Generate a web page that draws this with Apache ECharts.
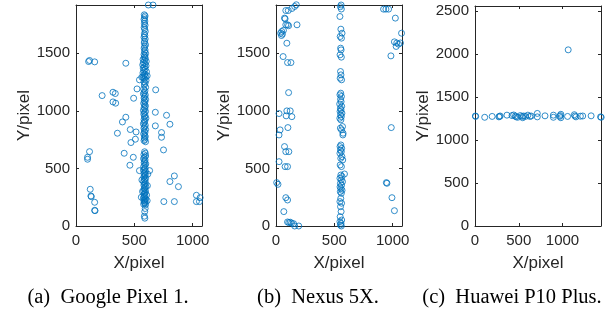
<!DOCTYPE html>
<html>
<head>
<meta charset="utf-8">
<script src="https://cdn.jsdelivr.net/npm/echarts@6/dist/echarts.min.js"></script>
<style>
    html, body { margin: 0; padding: 0; background: #fff; }
    #main { width: 616px; height: 313px; }
</style>
</head>
<body>
<div id="main"></div>
<script>
// screen sizes of the three phones (axis ranges)
var screenW = [1080, 1080, 1440];
var screenH = [1920, 1920, 2560];
var tickStep = 500;
var captions = ['(a)  Google Pixel 1.', '(b)  Nexus 5X.', '(c)  Huawei P10 Plus.'];

// (a) Google Pixel 1 - touches along the central column
var pixelLine = [
    [620,1920],[660,1920],
    [585,1835],[592,1825],[588,1810],[583,1795],[590,1780],[586,1760],[592,1745],[584,1725],
    [589,1710],[594,1690],[586,1670],[590,1655],[583,1640],[593,1625],[588,1605],[585,1590],
    [596,1575],[589,1560],[584,1545],[592,1530],[587,1515],[597,1500],[583,1490],[590,1480],
    [586,1468],[594,1458],[575,1448],[588,1440],[602,1430],[578,1420],[591,1410],[572,1400],
    [600,1392],[587,1382],[576,1372],[592,1362],[582,1350],[604,1340],[574,1330],[590,1320],
    [585,1310],[610,1305],[596,1298],[564,1293],[575,1290],[588,1280],[544,1270],[600,1265],
    [583,1255],[592,1240],[586,1225],[597,1205],[580,1190],[591,1175],[585,1160],[578,1148],
    [594,1138],[588,1125],[583,1112],[597,1100],[586,1090],[591,1078],[580,1066],[589,1055],
    [595,1042],[584,1030],[590,1018],[578,1005],[596,995],[586,985],[581,972],[592,960],
    [587,948],[599,936],[583,925],[590,912],[585,900],[578,888],[594,875],[588,862],
    [582,850],[597,838],[586,826],[591,812],[580,800],[589,788],[594,776],[585,765],
    [590,752],[583,742],[596,732],
    [588,645],[594,632],[582,620],[597,608],[586,596],[579,585],[592,574],[588,562],
    [584,550],[598,540],[590,528],[580,516],[593,505],[586,495],[578,485],[596,475],
    [588,465],[583,455],[615,450],[594,445],[589,435],[581,425],[597,415],[585,405],
    [565,400],[591,395],[579,385],[595,375],[587,365],[612,350],[582,355],[598,345],
    [590,335],[584,325],[593,315],[580,305],[570,300],[596,295],[588,285],[583,275],
    [605,268],[591,262],[585,252],[560,250],[578,244],[597,236],[589,228],[610,220],
    [582,220],[594,212],[586,204],[591,196],[580,190],[596,185],
    [593,152],[589,125],[586,85],[590,68]
];
// (a) Google Pixel 1 - scattered touches
var pixelScatter = [
    [108,1429],[116,1438],[160,1426],[427,1414],[224,1133],[317,1162],[337,1151],[317,1078],
    [340,1067],[494,1110],[523,1191],[683,1183],[680,988],[776,962],[805,884],[733,812],
    [733,771],[750,661],[427,945],[398,904],[355,806],[465,838],[515,817],[471,725],
    [509,754],[680,870],[413,632],[491,597],[462,528],[544,481],[631,481],[843,435],
    [805,386],[878,342],[753,212],[843,212],[1032,267],[1032,212],[1058,212],[1064,246],
    [116,646],[99,597],[99,580],[122,319],[128,261],[131,255],[160,206],[160,136],[163,133]
];

// (b) Nexus 5X
var nexusLeft = [
    [174,1922],[160,1907],[137,1890],[84,1872],[105,1872],[73,1806],[78,1800],[84,1748],
    [99,1748],[108,1740],[180,1748],[49,1690],[64,1700],[40,1675],[55,1667],[47,1655],
    [93,1588],[61,1472],[99,1420],[128,1420],[108,1159],[93,1000],[122,1000],[87,957],
    [136,950],[26,977],[102,855],[35,835],[26,791],[73,690],[84,646],[110,646],
    [26,559],[78,516],[99,516],[84,246],[99,226],[67,125],[99,35],[110,30],
    [122,33],[133,25],[151,20],[160,0],[195,0],[6,377],[17,362]
];
var nexusMid = [
    [558,1920],[552,1905],[560,1885],[548,1820],[556,1710],[566,1675],[550,1646],[561,1632],
    [554,1545],[558,1530],[549,1487],[560,1467],[553,1342],[557,1313],[550,1284],[562,1270],
    [555,1154],[548,1140],[561,1125],[553,1100],[558,1080],[546,1060],[563,1040],[552,1023],
    [557,1009],[549,995],[565,980],[554,965],[560,950],[547,936],[556,922],[570,864],
    [552,850],[562,835],[575,806],[573,791],[556,704],[549,690],[563,675],[553,660],
    [560,646],[548,632],[565,603],[555,588],[572,574],[550,530],[561,516],[587,452],
    [556,443],[566,430],[548,415],[559,400],[570,385],[552,370],[562,355],[549,340],
    [557,325],[566,310],[551,298],[560,284],[555,240],[548,212],[562,198],[553,168],
    [558,125],[550,81],[563,52],[548,38],[557,23],[552,9],[560,0]
];
var nexusRight = [
    [922,1884],[942,1884],[965,1884],[1023,1806],[1076,1675],[1015,1600],[1035,1590],[1050,1580],
    [1067,1590],[1030,1560],[985,1478],[988,855],[946,377],[951,371],[994,246],[1015,133]
];

// (c) Huawei P10 Plus
var huaweiPoints = [
    [4,1280],[8,1275],[111,1265],[196,1275],[273,1270],[280,1275],[288,1280],[365,1290],
    [423,1285],[442,1292],[462,1280],[470,1270],[488,1265],[519,1285],[538,1275],[545,1260],
    [557,1280],[577,1275],[604,1290],[627,1275],[642,1280],[712,1310],[712,1270],[800,1282],
    [896,1290],[896,1265],[969,1275],[975,1285],[981,1300],[981,1260],[1058,1275],[1065,2050],
    [1135,1295],[1142,1280],[1154,1270],[1204,1278],[1231,1280],[1327,1282],[1435,1270],[1442,1265]
];

var textColor = '#262626';
var lineColor = '#262626';
var markColor = '#0072BD';
var panelLeft = [76, 276, 475];

function plainNum(v) {
    return String(v);
}

function mainX(i) {
    return {
        type: 'value', gridIndex: i, min: 0, max: screenW[i], interval: tickStep,
        name: 'X/pixel', nameLocation: 'middle', nameGap: 29,
        nameTextStyle: { color: textColor, fontFamily: 'Liberation Sans', fontSize: 17 },
        axisLine: { show: true, onZero: false, lineStyle: { color: lineColor, width: 1 } },
        axisTick: { show: true, inside: true, length: 3, lineStyle: { color: lineColor } },
        axisLabel: { color: textColor, fontFamily: 'Liberation Sans', fontSize: 15, margin: 7,
            showMaxLabel: false, formatter: plainNum },
        splitLine: { show: false }
    };
}
function mirrorX(i) {
    return {
        type: 'value', gridIndex: i, position: 'top', min: 0, max: screenW[i], interval: tickStep,
        axisLine: { show: true, onZero: false, lineStyle: { color: lineColor, width: 1 } },
        axisTick: { show: true, inside: true, length: 3, lineStyle: { color: lineColor } },
        axisLabel: { show: false },
        splitLine: { show: false }
    };
}
function mainY(i) {
    return {
        type: 'value', gridIndex: i, min: 0, max: screenH[i], interval: tickStep,
        name: 'Y/pixel', nameLocation: 'middle', nameGap: 37,
        nameTextStyle: { color: textColor, fontFamily: 'Liberation Sans', fontSize: 17 },
        axisLine: { show: true, onZero: false, lineStyle: { color: lineColor, width: 1 } },
        axisTick: { show: true, inside: true, length: 3, lineStyle: { color: lineColor } },
        axisLabel: { color: textColor, fontFamily: 'Liberation Sans', fontSize: 15, margin: 6,
            showMaxLabel: false, formatter: plainNum },
        splitLine: { show: false }
    };
}
function mirrorY(i) {
    return {
        type: 'value', gridIndex: i, position: 'right', min: 0, max: screenH[i], interval: tickStep,
        axisLine: { show: true, onZero: false, lineStyle: { color: lineColor, width: 1 } },
        axisTick: { show: true, inside: true, length: 3, lineStyle: { color: lineColor } },
        axisLabel: { show: false },
        splitLine: { show: false }
    };
}
function scatter(i, data) {
    return {
        type: 'scatter', xAxisIndex: i, yAxisIndex: i, data: data,
        symbol: 'circle', symbolSize: 6, clip: false, silent: true,
        itemStyle: { color: 'rgba(0,0,0,0)', borderColor: markColor, borderWidth: 1 }
    };
}

var xAxes = [], yAxes = [];
for (var i = 0; i < 3; i++) { xAxes.push(mainX(i)); yAxes.push(mainY(i)); }
for (var j = 0; j < 3; j++) { xAxes.push(mirrorX(j)); yAxes.push(mirrorY(j)); }

var captionX = [108, 318, 512];
var graphics = [];
for (var k = 0; k < captions.length; k++) {
    graphics.push({
        type: 'text', x: captionX[k], y: 298, silent: true,
        style: { text: captions[k], fill: '#000', font: '20.5px "Liberation Serif"', align: 'center', verticalAlign: 'middle' }
    });
}

var myChart = echarts.init(document.getElementById('main'), null, { renderer: 'canvas' });
var option = {
    animation: false,
    backgroundColor: '#fff',
    grid: [
        { left: panelLeft[0], top: 5, width: 126, height: 221 },
        { left: panelLeft[1], top: 5, width: 126, height: 221 },
        { left: panelLeft[2], top: 6, width: 126, height: 220 }
    ],
    xAxis: xAxes,
    yAxis: yAxes,
    series: [
        scatter(0, pixelLine),
        scatter(0, pixelScatter),
        scatter(1, nexusLeft),
        scatter(1, nexusMid),
        scatter(1, nexusRight),
        scatter(2, huaweiPoints)
    ],
    graphic: graphics
};
myChart.setOption(option);
</script>
</body>
</html>
